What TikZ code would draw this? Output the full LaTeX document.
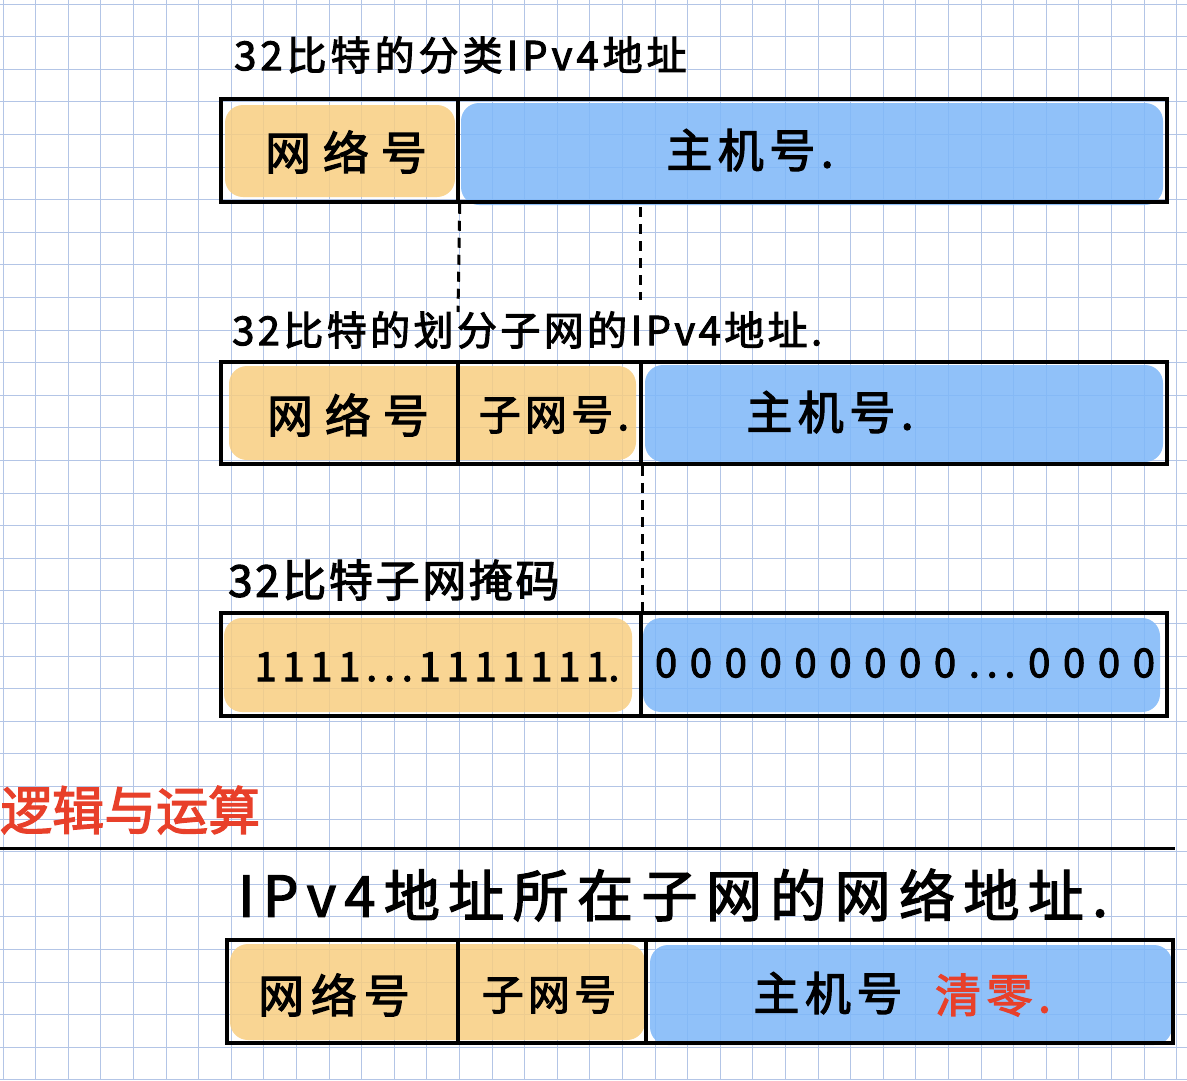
\documentclass[tikz,border=0pt]{standalone}
\usepackage{fontspec}
\newfontfamily\cjk[AutoFakeBold=2.5]{Noto Sans CJK SC}
\definecolor{gridc}{HTML}{B3C5E6}
\definecolor{orangefill}{HTML}{F8CE81}
\definecolor{bluefill}{HTML}{7DB7F9}
\definecolor{redink}{HTML}{E8402A}
\newcommand{\hwfont}[2]{\cjk\bfseries\fontsize{#1}{#1}\selectfont\addfontfeatures{LetterSpace=#2}}
\tikzset{
  gridline/.style={draw=gridc, line width=1pt},
  orangeblob/.style={fill=orangefill, fill opacity=0.85, rounded corners=18pt},
  blueblob/.style={fill=bluefill, fill opacity=0.85, rounded corners=18pt},
  cell/.style={draw=black, line width=3.5pt, inner sep=0pt, rectangle},
  dashline/.style={draw=black, line width=3pt, dash pattern=on 10pt off 7pt},
  title/.style={anchor=west, inner sep=0pt},
  celltext/.style={inner sep=0pt},
  digits/.style={inner sep=0pt, font=\cjk\bfseries\fontsize{40}{40}\selectfont}
}
\begin{document}
\begin{tikzpicture}[x=1pt,y=-1pt]
\useasboundingbox (0,0) rectangle (1187,1080);
\fill[white] (0,0) rectangle (1187,1080);
% grid
\foreach \i in {0,...,36} \draw[gridline] ({3+32.6*\i},0) -- ({3+32.6*\i},1080);
\foreach \i in {0,...,33} \draw[gridline] (0,{4+32.6*\i}) -- (1187,{4+32.6*\i});

% colour blobs
\fill[orangeblob] (225,105) rectangle (455,197);
\fill[blueblob] (461,103) rectangle (1163,205);
\fill[orangeblob] (229,366) rectangle (636,460);
\fill[blueblob] (645,365) rectangle (1163,462);
\fill[orangeblob] (224,618) rectangle (632,712);
\fill[blueblob] (643,618) rectangle (1160,712);
\fill[orangeblob] (230,944) rectangle (645,1040);
\fill[blueblob] (650,945) rectangle (1172,1045);

% titles
\node[title, font=\hwfont{40}{10}] (t1) at (234,55) {32比特的分类IPv4地址};
\node[title, font=\hwfont{40}{8.5}] (t2) at (232,330) {32比特的划分子网的IPv4地址.};
\node[title, font=\hwfont{44}{6}] (t3) at (228,580) {32比特子网掩码};
\node[title, font=\hwfont{52}{0}, text=redink] (t4) at (0,810) {逻辑与运算};
\node[title, font=\hwfont{56}{15}] (t5) at (238,895) {IPv4地址所在子网的网络地址.};

% box 1
\node[cell, minimum width=237pt, minimum height=103pt] (b1a) at (339.5,150.5) {};
\node[cell, minimum width=709pt, minimum height=103pt] (b1b) at (812.5,150.5) {};
% box 2
\node[cell, minimum width=237pt, minimum height=102pt] (b2a) at (339.5,413) {};
\node[cell, minimum width=183pt, minimum height=102pt] (b2b) at (549.5,413) {};
\node[cell, minimum width=526pt, minimum height=102pt] (b2c) at (904,413) {};
% box 3
\node[cell, minimum width=420pt, minimum height=103pt] (b3a) at (431,664.5) {};
\node[cell, minimum width=526pt, minimum height=103pt] (b3b) at (904,664.5) {};
% box 4
\node[cell, minimum width=231pt, minimum height=103pt] (b4a) at (342.5,991.5) {};
\node[cell, minimum width=188pt, minimum height=103pt] (b4b) at (552,991.5) {};
\node[cell, minimum width=527pt, minimum height=103pt] (b4c) at (909.5,991.5) {};

% separator line
\coordinate (sepL) at (0,848);
\coordinate (sepR) at (1175,848);
\draw[line width=3pt] (sepL) -- (sepR);

% dashed guides
\coordinate (d1end) at (458,312);
\coordinate (d2top) at (640,207);
\coordinate (d2end) at (640,300);
\draw[dashline] (b1a.south east) -- (d1end);
\draw[dashline] (d2top) -- (d2end);
\draw[dashline] (b2b.south east) -- (b3a.north east);

% cell texts
\node[celltext, font=\hwfont{46}{26}] (n1) at (346,152) {网络号};
\node[celltext, font=\hwfont{46}{12}] (h1) at (750,150) {主机号.};
\node[celltext, font=\hwfont{46}{26}] (n2) at (348,415) {网络号};
\node[celltext, font=\hwfont{42}{10}] (s2) at (554,415) {子网号.};
\node[celltext, font=\hwfont{46}{12}] (h2) at (830,412) {主机号.};
\node[digits] (ones) at (437,667) {\makebox[365pt]{1\hfill1\hfill1\hfill1\hfill.\,.\,.\hfill1\hfill1\hfill1\hfill1\hfill1\hfill1\hfill1.}};
\node[digits] (zeros) at (905,663) {\makebox[500pt]{0\hfill0\hfill0\hfill0\hfill0\hfill0\hfill0\hfill0\hfill0\hfill.\,.\,.\hfill0\hfill0\hfill0\hfill0}};
\node[celltext, font=\hwfont{46}{15}] (n4) at (334,995) {网络号};
\node[celltext, font=\hwfont{42}{10}] (s4) at (549,995) {子网号};
\node[celltext, font=\hwfont{46}{12}] (h4) at (828,993) {主机号};
\node[celltext, font=\hwfont{46}{12}, text=redink] (z4) at (993,995) {清零.};
\end{tikzpicture}
\end{document}
